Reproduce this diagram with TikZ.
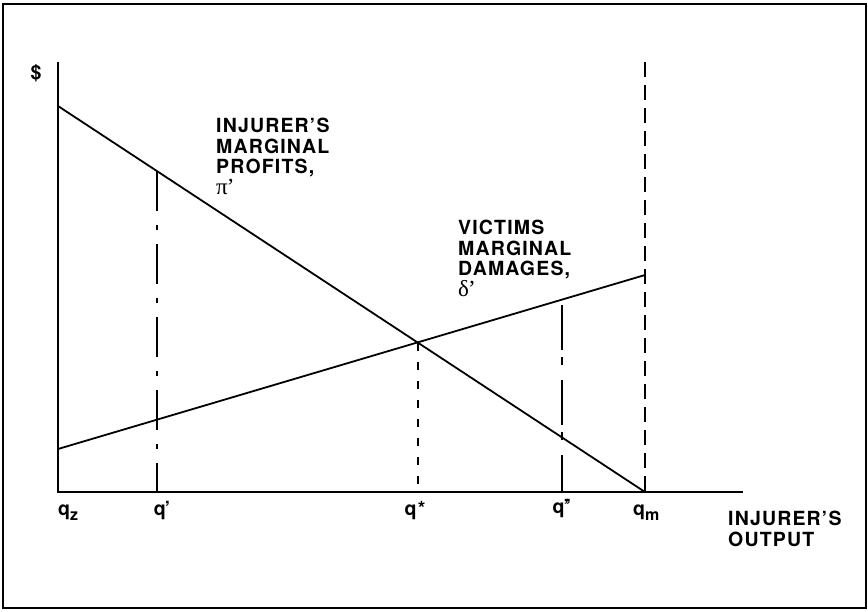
\documentclass[tikz,border=0pt]{standalone}
\usepackage{amsmath}
\usepackage{fontspec}
\setmainfont{TeX Gyre Heros}[LetterSpace=6]
\newfontfamily\greekfont{Liberation Serif}
\usepackage{tikz}

\begin{document}
\begin{tikzpicture}[x=1pt,y=-1pt]
\tikzstyle{every node}=[inner sep=0pt, font=\fontsize{19.5}{20.5}\selectfont\bfseries]
\tikzstyle{curve}=[line width=1.8pt]
\tikzstyle{axis}=[line width=2.2pt]
\useasboundingbox (0,0) rectangle (868,611);
\draw[line width=1.2pt] (3,4) rectangle (866,608);
% axes
\coordinate (O) at (58,492);
\coordinate (ytop) at (58,62);
\coordinate (xend) at (743,492);
\draw[axis] (ytop) -- (O) -- (xend);
% marginal profits and marginal damages
\coordinate (p0) at (58,106);
\coordinate (qm) at (645,492);
\coordinate (d0) at (58,449);
\coordinate (d1) at (645,275);
\draw[curve] (p0) -- (qm);
\draw[curve] (d0) -- (d1);
% output levels
\coordinate (a1) at (157,171);  \coordinate (a0) at (157,492);
\coordinate (s1) at (418,343);  \coordinate (s0) at (418,492);
\coordinate (b1) at (562,305);  \coordinate (b0) at (562,492);
\coordinate (m1) at (645,62);
\draw[curve, dash pattern=on 40pt off 14pt on 5pt off 14pt] (a1) -- (a0);
\draw[curve, dash pattern=on 8pt off 11pt] (s1) -- (s0);
\draw[curve, dash pattern=on 45pt off 7pt on 8pt off 15pt] (b1) -- (b0);
\draw[curve, dash pattern=on 15pt off 8pt] (m1) -- (qm);
% labels
\node at (36,73) (dollar) {\$};
\node[anchor=base west] at (58,515) (lz) {q\raisebox{-0.5ex}{\fontsize{16}{16}\selectfont z}};
\node[anchor=base] at (162,515) (l1) {q\kern-1pt’};
\node[anchor=base] at (415,515) (ls) {q*};
\node[anchor=base] at (562,513) (l2) {q\kern-1pt’\kern-3pt’};
\node[anchor=base west] at (633,515) (lm) {q\raisebox{-0.5ex}{\fontsize{16}{16}\selectfont m}};
\node[anchor=north west, align=left] at (728,511) (lout) {INJURER’S\\OUTPUT};
\node[anchor=north west, align=left] at (216,118) (lprof) {INJURER’S\\MARGINAL\\PROFITS,\\{\greekfont\mdseries\fontsize{23}{20.5}\selectfont π\kern-1pt’}};
\node[anchor=north west, align=left] at (458,220) (ldam) {VICTIMS\\MARGINAL\\DAMAGES,\\{\greekfont\mdseries\fontsize{23}{20.5}\selectfont δ\kern-1pt’}};
\end{tikzpicture}
\end{document}
